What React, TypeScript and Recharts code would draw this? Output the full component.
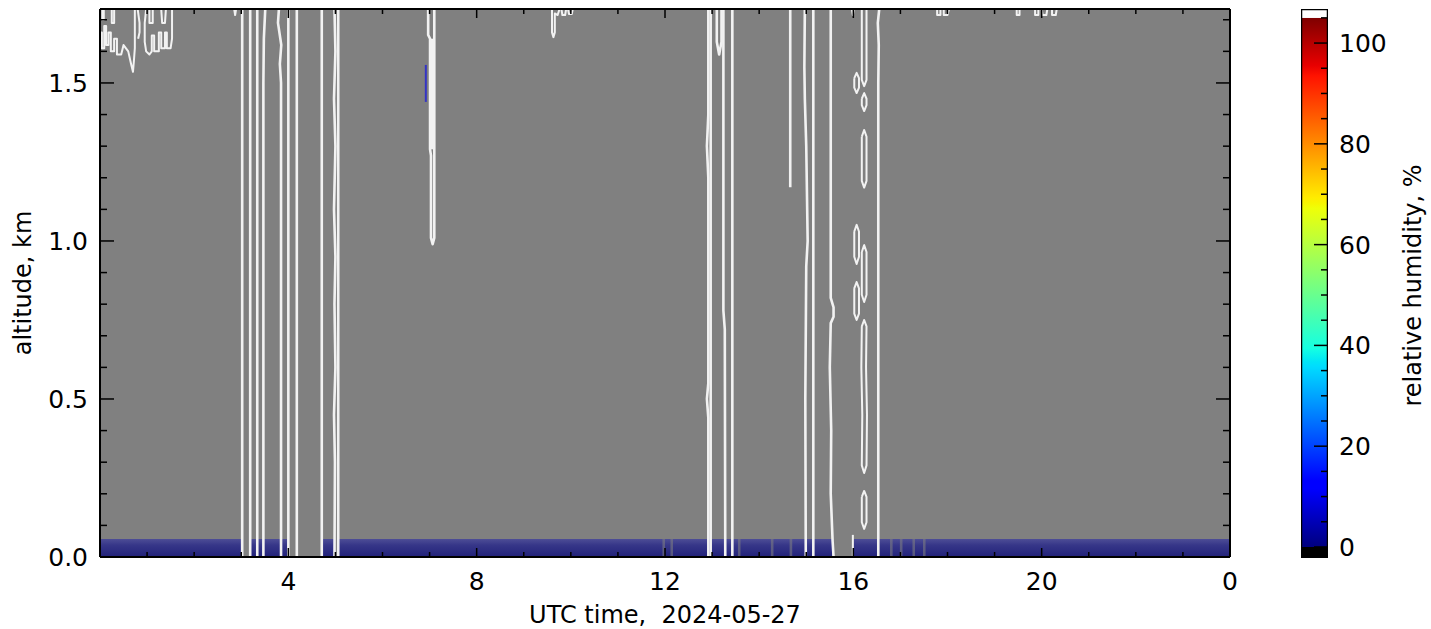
import React from 'react';
import { ComposedChart, Line, XAxis, YAxis, ReferenceArea } from 'recharts';

type Pt = [number, number];

const FONT = '"DejaVu Sans", sans-serif';
const TICK_FONT = 25;
const LABEL_FONT = 24;

// ---- axes ----
const X_MIN = 0;
const X_MAX = 24;
const Y_TOP = 1.734;
const X_TICKS = [0, 1, 2, 3, 4, 5, 6, 7, 8, 9, 10, 11, 12, 13, 14, 15, 16, 17, 18, 19, 20, 21, 22, 23, 24];
const X_TICK_LABELS: [number, string][] = [[4, '4'], [8, '8'], [12, '12'], [16, '16'], [20, '20'], [24, '0']];
const Y_TICKS = [0, 0.1, 0.2, 0.3, 0.4, 0.5, 0.6, 0.7, 0.8, 0.9, 1.0, 1.1, 1.2, 1.3, 1.4, 1.5, 1.6, 1.7];
const Y_TICK_LABELS: [number, string][] = [[0, '0.0'], [0.5, '0.5'], [1.0, '1.0'], [1.5, '1.5']];
const X_LABEL = 'UTC time,  2024-05-27';
const Y_LABEL = 'altitude, km';

// ---- colorbar ----
const CB_MIN = -2.19;
const CB_MAX = 106.76;
const CB_TOP = 105;
const CB_TICKS = [0, 5, 10, 15, 20, 25, 30, 35, 40, 45, 50, 55, 60, 65, 70, 75, 80, 85, 90, 95, 100, 105];
const CB_TICK_LABELS: [number, string][] = [[0, '0'], [20, '20'], [40, '40'], [60, '60'], [80, '80'], [100, '100']];
const CB_LABEL = 'relative humidity, %';
const JET_STOPS: [number, string][] = [
  [0, '#00007f'], [0.11, '#0000ff'], [0.125, '#0000ff'], [0.34, '#00dbff'], [0.35, '#00e5f7'],
  [0.375, '#15ffe2'], [0.64, '#efff08'], [0.65, '#f7f500'], [0.66, '#ffec00'], [0.89, '#ff1300'],
  [0.91, '#e80000'], [1, '#7f0000'],
];

// ---- humidity field: near-ground band (hours) ----
const BAND_TOP = 0.057;
const BAND_SEGMENTS: Pt[] = [
  [0, 3.01], [3.2, 4.01], [4.72, 4.98], [5.06, 11.95], [12.0, 12.12], [12.17, 13.55], [13.6, 14.25],
  [14.3, 14.65], [14.7, 15.55], [16.0, 16.78], [16.83, 16.99], [17.04, 17.26], [17.31, 17.48], [17.53, 24],
];
// thin partially-dry streaks inside the band (hours)
const BAND_STREAKS: Pt[] = [
  [11.95, 12.0], [12.12, 12.17], [13.55, 13.6], [14.25, 14.3], [14.65, 14.7], [16.78, 16.83], [16.99, 17.04], [17.26, 17.31], [17.48, 17.53],
];

// ---- contour lines (hour, km) ----
const STRAIGHT_TIMES = [3.02, 3.19, 3.34, 4.0, 4.18, 4.71, 5.06, 12.97, 13.43, 15.15];

const WIDE_CONTOURS: Pt[][] = [
  [[3.51, 1.734], [3.48, 1.64], [3.47, 1.5], [3.47, 0]],
  [[3.8, 1.734], [3.78, 1.69], [3.85, 1.62], [3.82, 1.56], [3.845, 1.5], [3.845, 0]],
  [[4.98, 1.734], [5.0, 1.6], [4.97, 1.45], [5.0, 1.3], [4.97, 1.1], [5.0, 0.95], [4.98, 0.8], [5.0, 0.6], [4.97, 0.45], [4.99, 0.3], [4.98, 0]],
  [[12.92, 1.734], [12.92, 1.4], [12.89, 1.3], [12.92, 1.2], [12.92, 0.55], [12.89, 0.5], [12.92, 0.44], [12.92, 0]],
  [[13.24, 1.734], [13.24, 0.78], [13.27, 0.72], [13.28, 0]],
  [[14.97, 1.734], [14.96, 1.55], [14.97, 1.45], [15.0, 1.3], [15.03, 1.0], [15.0, 0.92], [14.98, 0.5], [14.99, 0]],
  [[15.52, 1.734], [15.52, 0.82], [15.58, 0.79], [15.58, 0.76], [15.52, 0.74], [15.5, 0.6], [15.53, 0.4], [15.52, 0.2], [15.56, 0.05], [15.58, 0]],
  [[16.55, 1.734], [16.52, 1.69], [16.54, 1.62], [16.53, 1.5], [16.53, 0]],
  [[14.66, 1.734], [14.66, 1.17]],
  [[13.1, 1.734], [13.1, 1.63], [13.15, 1.59], [13.2, 1.63], [13.2, 1.734]],
  [[6.97, 1.734], [6.97, 1.652], [7.01, 1.64], [7.01, 1.29], [7.03, 1.27], [7.03, 1.01], [7.065, 0.99], [7.1, 1.01], [7.1, 1.734]],
  [[7.055, 1.64], [7.055, 1.29]],
];

const THIN_CONTOURS: Pt[][] = [
  // top-left jagged patch
  [[0, 1.66], [0.04, 1.66], [0.04, 1.61], [0.09, 1.61], [0.09, 1.68], [0.13, 1.68], [0.13, 1.62], [0.18, 1.62], [0.18, 1.66], [0.23, 1.66], [0.23, 1.6], [0.3, 1.6], [0.3, 1.64], [0.36, 1.64], [0.36, 1.59], [0.45, 1.59], [0.5, 1.62], [0.6, 1.6], [0.66, 1.56], [0.7, 1.535], [0.72, 1.57], [0.74, 1.61], [0.74, 1.734]],
  [[0.05, 1.734], [0.05, 1.7], [0.08, 1.7], [0.08, 1.734]],
  [[0.25, 1.734], [0.25, 1.69], [0.3, 1.69], [0.3, 1.734]],
  [[0.8, 1.734], [0.84, 1.69], [0.84, 1.66], [0.81, 1.64]],
  [[0.98, 1.734], [0.95, 1.69], [0.95, 1.63], [0.98, 1.6], [1.05, 1.59], [1.1, 1.6], [1.1, 1.65], [1.15, 1.65], [1.15, 1.6], [1.25, 1.6], [1.25, 1.66], [1.3, 1.66], [1.3, 1.61], [1.38, 1.61], [1.38, 1.66], [1.42, 1.66], [1.42, 1.61], [1.5, 1.61], [1.53, 1.64], [1.53, 1.734]],
  [[1.05, 1.734], [1.05, 1.69], [1.12, 1.69], [1.12, 1.734]],
  [[1.3, 1.734], [1.32, 1.69], [1.38, 1.69], [1.4, 1.734]],
  // small features at the top
  [[2.85, 1.734], [2.87, 1.715], [2.89, 1.734]],
  [[9.6, 1.734], [9.6, 1.66], [9.63, 1.645], [9.66, 1.66], [9.66, 1.72], [9.72, 1.715], [9.76, 1.734]],
  [[9.8, 1.734], [9.82, 1.715], [9.88, 1.715], [9.9, 1.734]],
  [[9.94, 1.734], [9.96, 1.718], [10.02, 1.718], [10.04, 1.734]],
  [[17.78, 1.734], [17.78, 1.715], [17.85, 1.715], [17.85, 1.734]],
  [[17.92, 1.734], [17.92, 1.715], [18.0, 1.715], [18.03, 1.734]],
  [[19.47, 1.734], [19.47, 1.715], [19.53, 1.715], [19.53, 1.734]],
  [[19.86, 1.734], [19.86, 1.715], [19.93, 1.715], [19.93, 1.734]],
  [[20.0, 1.734], [20.02, 1.715], [20.1, 1.715], [20.12, 1.734]],
  [[20.22, 1.734], [20.22, 1.715], [20.3, 1.715], [20.32, 1.734]],
  // dashed cells near 16 h
  [[15.97, 1.734], [15.99, 1.715], [16.01, 1.734]],
  [[15.99, 0], [15.99, 0.07]],
  [[16.18, 1.734], [16.18, 1.51], [16.23, 1.49], [16.28, 1.51], [16.28, 1.734]],
  [[16.18, 1.45], [16.18, 1.43], [16.23, 1.411], [16.28, 1.43], [16.28, 1.45], [16.23, 1.468], [16.18, 1.45]],
  [[16.02, 1.515], [16.02, 1.485], [16.07, 1.468], [16.12, 1.485], [16.12, 1.515], [16.07, 1.532], [16.02, 1.515]],
  [[16.18, 1.33], [16.18, 1.19], [16.23, 1.169], [16.28, 1.19], [16.28, 1.33], [16.23, 1.351], [16.18, 1.33]],
  [[16.02, 1.03], [16.02, 0.95], [16.07, 0.927], [16.12, 0.95], [16.12, 1.03], [16.07, 1.051], [16.02, 1.03]],
  [[16.18, 0.965], [16.18, 0.83], [16.23, 0.807], [16.28, 0.83], [16.28, 0.965], [16.23, 0.987], [16.18, 0.965]],
  [[16.02, 0.85], [16.02, 0.77], [16.07, 0.75], [16.12, 0.77], [16.12, 0.85], [16.07, 0.87], [16.02, 0.85]],
  [[16.18, 0.73], [16.17, 0.6], [16.19, 0.45], [16.18, 0.29], [16.23, 0.266], [16.28, 0.29], [16.29, 0.45], [16.27, 0.6], [16.28, 0.73], [16.23, 0.75], [16.18, 0.73]],
  [[16.18, 0.19], [16.18, 0.11], [16.23, 0.089], [16.28, 0.11], [16.28, 0.19], [16.23, 0.209], [16.18, 0.19]],
];

const BLUE_TRACES: Pt[][] = [[[6.92, 1.557], [6.92, 1.44]]];

const toRows = (pts: Pt[]) => pts.map(([t, a]) => ({ t, a }));

const findLabel = (list: [number, string][], v: number) => {
  const hit = list.find(([k]) => Math.abs(k - v) < 1e-6);
  return hit ? hit[1] : null;
};

const X_MAJOR = 9;
const X_MINOR = 5;
const Y_MAJOR = 14;
const Y_MINOR = 7;

const BottomTick = (p: any) => {
  const v = p.payload.value;
  const label = findLabel(X_TICK_LABELS, v);
  const major = v % 4 === 0;
  return (
    <g>
      <line x1={p.x} x2={p.x} y1={p.y} y2={p.y - (major ? X_MAJOR : X_MINOR)} stroke="#000" strokeWidth={1.5} />
      {label !== null && (
        <text x={p.x} y={p.y + 33} textAnchor="middle" fontSize={TICK_FONT} fontFamily={FONT} fill="#000">{label}</text>
      )}
    </g>
  );
};

const TopTick = (p: any) => {
  const v = p.payload.value;
  const major = v % 4 === 0;
  return <line x1={p.x} x2={p.x} y1={p.y} y2={p.y + (major ? X_MAJOR : X_MINOR)} stroke="#000" strokeWidth={1.5} />;
};

const LeftTick = (p: any) => {
  const v = p.payload.value;
  const label = findLabel(Y_TICK_LABELS, v);
  return (
    <g>
      <line x1={p.x} x2={p.x + (label !== null ? Y_MAJOR : Y_MINOR)} y1={p.y} y2={p.y} stroke="#000" strokeWidth={1.5} />
      {label !== null && (
        <text x={p.x - 12} y={p.y} dy="0.36em" textAnchor="end" fontSize={TICK_FONT} fontFamily={FONT} fill="#000">{label}</text>
      )}
    </g>
  );
};

const RightTick = (p: any) => {
  const v = p.payload.value;
  const major = findLabel(Y_TICK_LABELS, v) !== null;
  return <line x1={p.x} x2={p.x - (major ? Y_MAJOR : Y_MINOR)} y1={p.y} y2={p.y} stroke="#000" strokeWidth={1.5} />;
};

const CbTick = (p: any) => {
  const v = p.payload.value;
  const label = findLabel(CB_TICK_LABELS, v);
  return (
    <g>
      <line x1={p.x} x2={p.x - (label !== null ? 14 : 7)} y1={p.y} y2={p.y} stroke="#000" strokeWidth={1.5} />
      {label !== null && (
        <text x={p.x + 11} y={p.y} dy="0.36em" textAnchor="start" fontSize={TICK_FONT} fontFamily={FONT} fill="#000">{label}</text>
      )}
    </g>
  );
};

const XLabel = (p: any) => {
  const vb = p.viewBox;
  return (
    <text x={vb.x + vb.width / 2} y={vb.y + 66} textAnchor="middle" fontSize={LABEL_FONT} fontFamily={FONT} fill="#000" style={{ whiteSpace: 'pre' }}>{X_LABEL}</text>
  );
};

const YLabel = (p: any) => {
  const vb = p.viewBox;
  const x = vb.x + vb.width - 69;
  const y = vb.y + vb.height / 2;
  return (
    <text x={x} y={y} transform={`rotate(-90, ${x}, ${y})`} textAnchor="middle" fontSize={LABEL_FONT} fontFamily={FONT} fill="#000">{Y_LABEL}</text>
  );
};

const CbLabel = (p: any) => {
  const vb = p.viewBox;
  const x = vb.x + vb.width + 93;
  const y = vb.y + vb.height / 2 + 2;
  return (
    <text x={x} y={y} transform={`rotate(-90, ${x}, ${y})`} textAnchor="middle" fontSize={LABEL_FONT} fontFamily={FONT} fill="#000">{CB_LABEL}</text>
  );
};

const lineProps = {
  dataKey: 'a',
  dot: false,
  activeDot: false,
  isAnimationActive: false,
  legendType: 'none' as const,
  strokeLinejoin: 'round' as const,
};

const CB_DUMMY = [{ x: 0 }, { x: 1 }];

export default function App() {
  return (
    <div style={{ position: 'absolute', left: 0, top: 0, width: 1431, height: 629, background: '#fff' }}>
      <div style={{ position: 'absolute', left: 0, top: 0 }}>
        <ComposedChart width={1300} height={629} margin={{ top: 8, right: 69, bottom: 71, left: 99 }}>
          <defs>
            <linearGradient id="bandGrad" x1="0" y1="0" x2="0" y2="1">
              <stop offset="0" stopColor="#4d4d96" />
              <stop offset="0.35" stopColor="#363688" />
              <stop offset="1" stopColor="#22227a" />
            </linearGradient>
          </defs>
          <ReferenceArea x1={X_MIN} x2={X_MAX} y1={0} y2={Y_TOP} fill="#808080" fillOpacity={1} stroke="none" ifOverflow="hidden" />
          {BAND_SEGMENTS.map(([s, e], i) => (
            <ReferenceArea key={'band' + i} x1={s} x2={e} y1={0} y2={BAND_TOP} fill="url(#bandGrad)" fillOpacity={1} stroke="none" ifOverflow="hidden" />
          ))}
          {BAND_STREAKS.map(([s, e], i) => (
            <ReferenceArea key={'streak' + i} x1={s} x2={e} y1={0} y2={BAND_TOP} fill="url(#bandGrad)" fillOpacity={0.45} stroke="none" ifOverflow="hidden" />
          ))}
          {BLUE_TRACES.map((c, i) => (
            <Line key={'blue' + i} {...lineProps} data={toRows(c)} stroke="#3434c4" strokeWidth={2} />
          ))}
          {STRAIGHT_TIMES.map((t, i) => (
            <Line key={'s' + i} {...lineProps} data={toRows([[t, 0], [t, Y_TOP]])} stroke="#f2f2f2" strokeWidth={2.6} />
          ))}
          {WIDE_CONTOURS.map((c, i) => (
            <Line key={'w' + i} {...lineProps} data={toRows(c)} stroke="#f2f2f2" strokeWidth={2.6} />
          ))}
          {THIN_CONTOURS.map((c, i) => (
            <Line key={'t' + i} {...lineProps} data={toRows(c)} stroke="#f2f2f2" strokeWidth={2} />
          ))}
          <XAxis
            xAxisId={0} dataKey="t" type="number" domain={[X_MIN, X_MAX]} allowDataOverflow
            ticks={X_TICKS} interval={0} height={1} tickSize={0} tickMargin={0} tickLine={false}
            axisLine={{ stroke: '#000', strokeWidth: 2 }} tick={BottomTick}
            label={{ content: XLabel }}
          />
          <XAxis
            xAxisId="top" orientation="top" dataKey="t" type="number" domain={[X_MIN, X_MAX]} allowDataOverflow
            ticks={X_TICKS} interval={0} height={1} tickSize={0} tickMargin={0} tickLine={false}
            axisLine={{ stroke: '#000', strokeWidth: 2 }} tick={TopTick}
          />
          <YAxis
            yAxisId={0} type="number" domain={[0, Y_TOP]} allowDataOverflow
            ticks={Y_TICKS} interval={0} width={1} tickSize={0} tickMargin={0} tickLine={false}
            axisLine={{ stroke: '#000', strokeWidth: 2 }} tick={LeftTick}
            label={{ content: YLabel }}
          />
          <YAxis
            yAxisId="right" orientation="right" type="number" domain={[0, Y_TOP]} allowDataOverflow
            ticks={Y_TICKS} interval={0} width={1} tickSize={0} tickMargin={0} tickLine={false}
            axisLine={{ stroke: '#000', strokeWidth: 2 }} tick={RightTick}
          />
        </ComposedChart>
      </div>
      <div style={{ position: 'absolute', left: 1301, top: 0 }}>
        <ComposedChart width={130} height={629} margin={{ top: 9, right: 102, bottom: 71, left: 0 }} data={CB_DUMMY}>
          <defs>
            <linearGradient id="jetGrad" x1="0" y1="1" x2="0" y2="0">
              {JET_STOPS.map(([o, c], i) => (
                <stop key={i} offset={o} stopColor={c} />
              ))}
            </linearGradient>
          </defs>
          <ReferenceArea x1={0} x2={1} y1={CB_MIN} y2={0} fill="#000" fillOpacity={1} stroke="none" ifOverflow="hidden" />
          <ReferenceArea x1={0} x2={1} y1={0} y2={CB_TOP} fill="url(#jetGrad)" fillOpacity={1} stroke="none" ifOverflow="hidden" />
          <ReferenceArea x1={0} x2={1} y1={CB_TOP} y2={CB_MAX} fill="#fff" fillOpacity={1} stroke="none" ifOverflow="hidden" />
          <ReferenceArea
            x1={0} x2={1} y1={CB_MIN} y2={CB_MAX} fill="none" stroke="#000" strokeWidth={2.5} ifOverflow="hidden"
            label={{ content: CbLabel }}
          />
          <XAxis dataKey="x" type="number" domain={[0, 1]} allowDataOverflow hide height={1} />
          <YAxis
            type="number" orientation="right" domain={[CB_MIN, CB_MAX]} allowDataOverflow
            ticks={CB_TICKS} interval={0} width={1} tickSize={0} tickMargin={0} tickLine={false}
            axisLine={false} tick={CbTick}
          />
        </ComposedChart>
      </div>
    </div>
  );
}
